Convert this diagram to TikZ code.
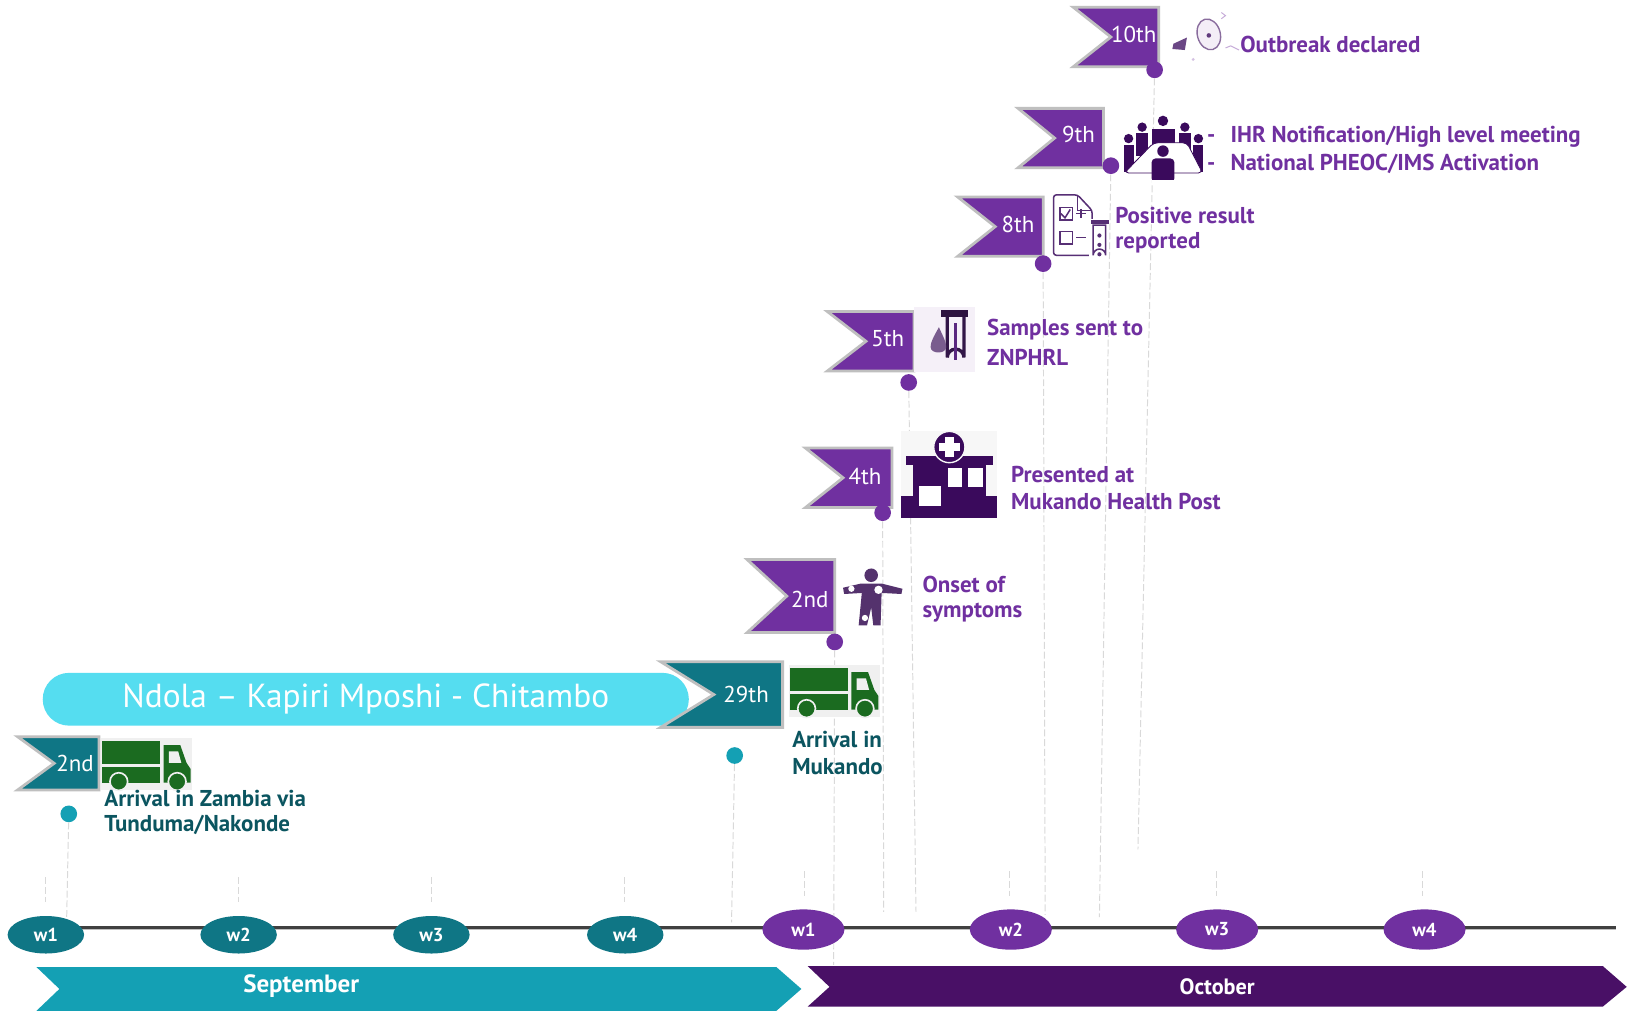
\documentclass[tikz,border=0pt]{standalone}
\usepackage{fontspec}
\setmainfont{PT Sans}
\usetikzlibrary{shapes.geometric}
\definecolor{pur}{HTML}{7030A0}
\definecolor{dpur}{HTML}{491066}
\definecolor{icopur}{HTML}{3A0A5C}
\definecolor{teal1}{HTML}{0F7685}
\definecolor{teal2}{HTML}{14A0B4}
\definecolor{tealtxt}{HTML}{0B5560}
\definecolor{pill}{HTML}{55DDF0}
\definecolor{trk}{HTML}{1B6B20}
\definecolor{edgegray}{HTML}{BFBFBF}
\definecolor{dashgray}{HTML}{D9D9D9}
\tikzset{
 flagshape/.style={draw=edgegray,line width=2pt,miter limit=10},
 flagtext/.style={text=white,font=\fontsize{16.5}{18}\selectfont,inner sep=0},
 dotp/.style={circle,fill=pur,minimum size=12pt,inner sep=0},
 dott/.style={circle,fill=teal2,minimum size=12pt,inner sep=0},
 guide/.style={draw=dashgray,line width=.7pt,dashed,dash pattern=on 5pt off 2pt},
 wk/.style={ellipse,inner sep=0,text=white,font=\bfseries\fontsize{13.5}{15}\selectfont},
 wkt/.style={wk,fill=teal1,minimum width=55pt,minimum height=27pt},
 wkp/.style={wk,fill=pur,minimum width=59pt,minimum height=29pt},
 lblp/.style={anchor=west,text=pur,inner sep=0,font=\bfseries\fontsize{16.5}{18}\selectfont},
 lblt/.style={anchor=west,text=tealtxt,inner sep=0,font=\bfseries\fontsize{16.5}{18}\selectfont},
 month/.style={text=white,inner sep=0,font=\bfseries\fontsize{18}{20}\selectfont},
}
% left, right, top, bottom, notch x, colour
\newcommand\flagpoly[6]{\draw[flagshape,fill=#6] (#1,#3) -- (#2,#3) -- (#2,#4) -- (#1,#4) -- (#5,{(#3+#4)/2}) -- cycle;}
\newcommand\truckicon[2]{\begin{scope}[shift={(#1,#2)}]
 \fill[black!6] (0,0) rectangle (87,50);
 \fill[trk] (1,3) rectangle (57,25);
 \fill[trk] (1,28) rectangle (57,43);
 \fill[trk] (60,7) -- (76,7) -- (82,24) -- (86,30) -- (86,43) -- (60,43) -- cycle;
 \fill[black!6] (65,13) -- (74,13) -- (77,24) -- (65,24) -- cycle;
 \fill[trk,draw=black!6,line width=1.2pt] (17,42) circle[radius=8.5];
 \fill[trk,draw=black!6,line width=1.2pt] (73,42) circle[radius=8.5];
\end{scope}}
\begin{document}
\begin{tikzpicture}[x=.75pt,y=-.75pt]
\useasboundingbox (0,0) rectangle (1568,970);
\fill[white] (0,0) rectangle (1568,970);
% timeline
\fill[edgegray] (40,890.5) rectangle (1551,892.5);
\draw[line width=1.5pt,black!75] (40,890) coordinate (tlstart) -- (1551,890) coordinate (tlend);
% pill
\node[fill=pill,rounded corners=19pt,minimum width=465pt,minimum height=38pt,inner sep=0,text=white,font=\fontsize{24}{26}\selectfont,anchor=center] (route) at (351,671) {};
\node[text=white,font=\fontsize{24}{26}\selectfont,inner sep=0] (routet) at (351,671) {Ndola – Kapiri Mposhi - Chitambo};
% flags
\flagpoly{1030}{1112}{7}{64}{1066}{pur}
\flagpoly{977}{1059}{104}{161}{1012}{pur}
\flagpoly{919}{1001}{189}{246}{955}{pur}
\flagpoly{794}{877}{299}{356}{831}{pur}
\flagpoly{773}{856}{430}{487}{809}{pur}
\flagpoly{717}{801}{537}{607}{755}{pur}
\flagpoly{634}{751}{635}{698}{685}{teal1}
\flagpoly{17}{95}{707}{758}{52}{teal1}
\node[flagtext] (f10) at (1088,33) {10th};
\node[flagtext] (f9) at (1035,129) {9th};
\node[flagtext] (f8) at (977,215) {8th};
\node[flagtext] (f5) at (852,325) {5th};
\node[flagtext] (f4) at (830,457) {4th};
\node[flagtext] (f2) at (777,575) {2nd};
\node[flagtext] (f29) at (716,666) {29th};
\node[flagtext] (fs2) at (72,733) {2nd};
% dots
\node[dotp] (d10) at (1108,67) {};
\node[dotp] (d9) at (1066,159) {};
\node[dotp] (d8) at (1001,253) {};
\node[dotp] (d5) at (872,367) {};
\node[dotp] (d4) at (847,492) {};
\node[dotp] (d2) at (801,616) {};
\node[dott] (d29) at (705,725) {};
\node[dott] (ds2) at (66,781) {};
% guides
\coordinate (e10) at (1092,815); \coordinate (e9) at (1055,880);
\coordinate (e8) at (1003,878); \coordinate (e5) at (879,875);
\coordinate (e4) at (848,875); \coordinate (e2) at (800,926);
\coordinate (e29) at (702,885); \coordinate (es2) at (64,880);
\foreach \n in {10,9,8,5,4,2,29,s2} \draw[guide] (d\n) -- (e\n);
\foreach \x in {44,229,414,599} \draw[guide] (\x,842) -- (\x,866);
\foreach \x in {772,969,1167,1365} \draw[guide] (\x,836) -- (\x,860);
% weeks
\foreach \x/\n/\t in {44/a/w1,229/b/w2,414/c/w3,600/d/w4} \node[wkt] (s\n) at (\x,897) {\t};
\foreach \x/\n/\t in {771/a/w1,970/b/w2,1168/c/w3,1367/d/w4} \node[wkp] (o\n) at (\x,892) {\t};
% months
\fill[teal2] (35,928) -- (745,928) -- (769,949) -- (745,970) -- (35,970) -- (57,949) -- cycle;
\fill[dpur] (775,927) -- (1538,927) -- (1561,947) -- (1538,966) -- (775,966) -- (796,947) -- cycle;
\node[month] (sept) at (289,946) {September};
\node[month,font=\bfseries\fontsize{16}{18}\selectfont] (oct) at (1168,947) {October};
% trucks
\truckicon{97}{708}
\truckicon{757}{638}
% health post
\fill[black!3] (865,414) rectangle (957,497);
\fill[icopur] (865,476) rectangle (957,497);
\fill[icopur] (876,446) rectangle (946,480);
\fill[icopur] (869,438) rectangle (953,446);
\fill[icopur,draw=black!3,line width=1pt] (911,429) circle[radius=15];
\fill[white] (907,419) rectangle (915,439);
\fill[white] (901,425) rectangle (921,433);
\fill[white] (882,466) rectangle (903,486);
\fill[white] (910,449) rectangle (923,467);
\fill[white] (929,449) rectangle (943,467);
% test tube
\fill[pur!7] (877,295) rectangle (936,357);
\fill[black!60!pur] (903,297) rectangle (929,304);
\draw[line width=2.4pt,black!55!pur] (909,304) -- (909,343) arc[start angle=180,end angle=360,x radius=8,y radius=8] -- (925,304);
\draw[line width=2pt,pur!80!black] (917,310) -- (917,345);
\fill[pur!45!gray] (901,314) .. controls (896,323) and (893,328) .. (893,333) .. controls (893,340) and (908,340) .. (908,333) .. controls (908,328) and (905,323) .. (901,314);
% person
\begin{scope}[black!35!pur!80!gray]
\fill (836,552) circle[radius=6.5];
\fill (826,560) -- (846,560) -- (866,565) -- (865,570) -- (846,569) -- (845,600) -- (838,600) -- (836,583) -- (832,600) -- (824,600) -- (827,569) -- (810,570) -- (809,564) -- cycle;
\fill[white] (817,565) circle[radius=3];
\fill[white] (843,566) circle[radius=4];
\fill[white] (830,593) circle[radius=3];
\end{scope}
% checklist and tube
\begin{scope}[icopur!85,line width=1.1pt]
\draw[rounded corners=2pt] (1048,210) -- (1048,202) -- (1034,187) -- (1011,187) -- (1011,245) -- (1045,245);
\draw (1034,187) -- (1034,202) -- (1048,202);
\draw (1017,199) rectangle (1029,211);
\draw (1018,205) -- (1022,209) -- (1027,201);
\draw (1033,205) -- (1042,205) (1037.5,200.5) -- (1037.5,209.5);
\draw (1017,222) rectangle (1029,234);
\draw (1033,228) -- (1042,228);
\draw[fill=white] (1049,216) -- (1049,245) arc[start angle=180,end angle=360,x radius=6,y radius=6] -- (1061,216) -- cycle;
\fill (1047,211) rectangle (1064,215);
\fill (1055,226) circle[radius=2] (1055,235) circle[radius=2] (1055,244) circle[radius=2];
\end{scope}
% meeting
\begin{scope}[icopur]
\foreach \hx/\hy in {1116,117}{}
\fill (1116,116) circle[radius=5];
\fill (1105,124) rectangle (1128,142);
\fill (1096,122) circle[radius=4.5];
\fill (1090,128) rectangle (1102,150);
\fill (1137,122) circle[radius=4.5];
\fill (1131,128) rectangle (1143,150);
\fill (1083,133) circle[radius=4.5];
\fill (1079,139) rectangle (1088,165);
\fill (1150,133) circle[radius=4.5];
\fill (1145,139) rectangle (1154,165);
\draw[fill=white,line width=.6pt,rounded corners=3pt] (1107,137) -- (1139,137) -- (1154,166) -- (1079,166) -- cycle;
\fill (1116,145) circle[radius=5.5];
\fill[rounded corners=3pt] (1105,152) rectangle (1127,175);
\fill[white] (1105,173) rectangle (1127,176);
\end{scope}
% megaphone
\begin{scope}
\draw[line width=1pt,icopur!60,fill=pur!8,rotate around={15:(1160,33)}] (1160,33) ellipse[x radius=11,y radius=15];
\fill[icopur!80] (1160,34) circle[radius=2.2];
\fill[icopur!75] (1139,36) -- (1137,48) -- (1125,47) -- (1126,42) -- cycle;
\draw[pur!40,line width=.7pt] (1172,12) -- (1176,15) -- (1172,18) (1176,46) -- (1181,44) -- (1189,48);
\fill[pur!30] (1145,57) circle[radius=1.5];
\end{scope}
% labels
\node[lblt] (l1) at (100,766) {Arrival in Zambia via};
\node[lblt] (l1b) at (100,792) {Tunduma/Nakonde};
\node[lblt] (l2) at (760,710) {Arrival in};
\node[lblt] (l2b) at (760,736) {Mukando};
\node[lblp] (l3) at (885,561) {Onset of};
\node[lblp] (l3b) at (885,588) {symptoms};
\node[lblp] (l4) at (970,455) {Presented at};
\node[lblp] (l4b) at (970,481) {Mukando Health Post};
\node[lblp] (l5) at (947,316) {Samples sent to};
\node[lblp] (l5b) at (947,343) {ZNPHRL};
\node[lblp] (l6) at (1070,207) {Positive result};
\node[lblp] (l6b) at (1070,233) {reported};
\node[lblp] (l7) at (1158,131) {-\hspace{11pt}IHR Notification/High level meeting};
\node[lblp] (l7b) at (1158,157) {-\hspace{11pt}National PHEOC/IMS Activation};
\node[lblp] (l8) at (1190,43) {Outbreak declared};
\end{tikzpicture}
\end{document}
